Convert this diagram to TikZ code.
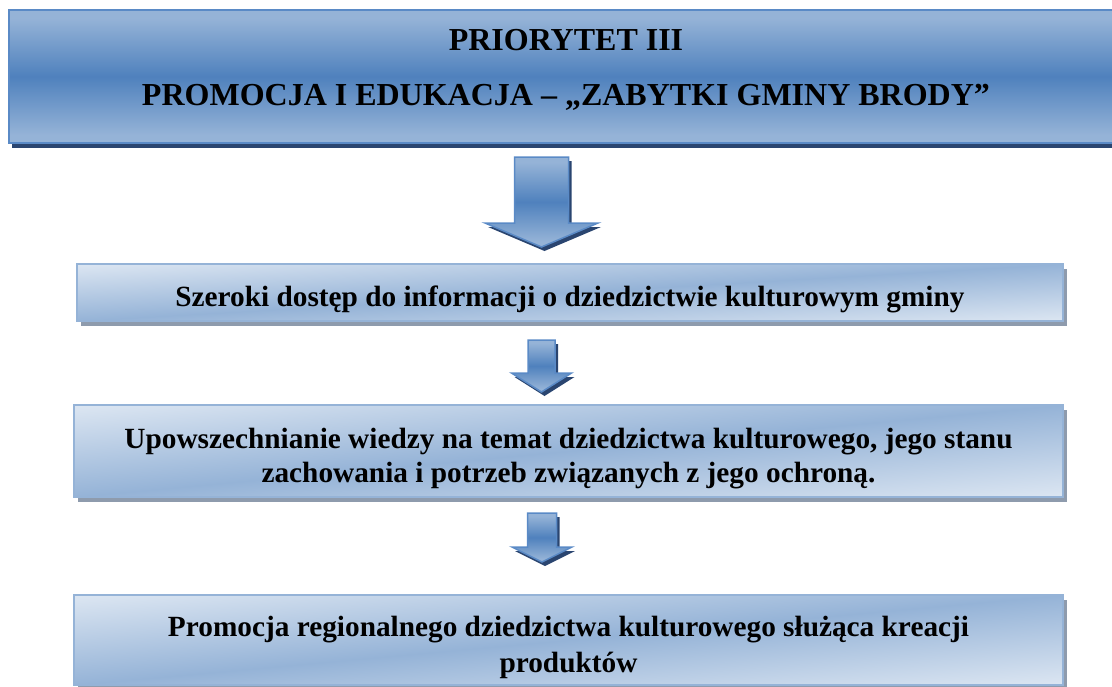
\documentclass[tikz,border=0pt]{standalone}
\usepackage{fontspec}
\setmainfont{Liberation Serif}
\usetikzlibrary{shadows}
\definecolor{lightb}{HTML}{DCE6F2}
\definecolor{midb}{HTML}{95B3D7}
\definecolor{darkb}{HTML}{4F81BD}
\definecolor{bordblue}{HTML}{5A8AC6}
\definecolor{navy}{HTML}{2A4570}
\definecolor{shadowgray}{HTML}{8E9BAD}
\definecolor{boxborder}{HTML}{95B3D7}
\pgfdeclareverticalshading{topband}{100bp}{color(0bp)=(midb); color(28bp)=(midb); color(50bp)=(darkb); color(72bp)=(midb); color(100bp)=(midb)}
\pgfdeclarefunctionalshading{diagbox}{\pgfpoint{0bp}{0bp}}{\pgfpoint{100bp}{100bp}}{}{
  25 sub 50 div exch 25 sub 50 div sub abs
  dup 1 gt {pop 1} if
  dup 0.279 mul 0.584 add exch
  dup 0.2 mul 0.702 add exch
  0.106 mul 0.843 add
}
\newcommand\blockarrow[6]{%
  \begin{scope}[shift={(3,4)}]
    \fill[navy] ({#1-#3},#2) -- ({#1+#3},#2) -- ({#1+#3},#4) -- ({#1+#5},#4) -- (#1,#6) -- ({#1-#5},#4) -- ({#1-#3},#4) -- cycle;
  \end{scope}
  \shade[arrowbody] ({#1-#3},#2) -- ({#1+#3},#2) -- ({#1+#3},#4) -- ({#1+#5},#4) -- (#1,#6) -- ({#1-#5},#4) -- ({#1-#3},#4) -- cycle;
}
\begin{document}
\begin{tikzpicture}[x=1pt,y=-1pt,
  arrowbody/.style={shading=topband, draw=bordblue, line width=1.5pt, line join=miter},
  topbox/.style={shade, shading=topband, draw=bordblue, line width=2.5pt,
    general shadow={fill=navy, shadow xshift=3pt, shadow yshift=-5pt}, inner sep=0pt},
  lightbox/.style={shade, shading=diagbox, draw=boxborder, line width=1.5pt,
    general shadow={fill=shadowgray, shadow xshift=4pt, shadow yshift=-5pt}, inner sep=0pt},
  bodytext/.style={align=center, font=\fontsize{29.3}{34}\selectfont\bfseries, inner sep=0pt, text depth=0pt},
  titletext/.style={align=center, font=\fontsize{32}{55}\selectfont\bfseries, inner sep=0pt}]
\useasboundingbox (0,0) rectangle (1112,686);
\clip (0,0) rectangle (1112,686);
% title box
\node[topbox, minimum width=1116pt, minimum height=133pt] (b1) at (567,76.5) {};
\node[titletext] (title) at (566,70) {PRIORYTET III\\PROMOCJA I EDUKACJA – „ZABYTKI GMINY BRODY”};
% arrows
\blockarrow{541.5}{157}{27}{223}{56.5}{247}
\blockarrow{541.5}{340}{13.5}{373}{30}{392}
\blockarrow{542}{513}{14.5}{547}{30}{562}
% boxes
\node[lightbox, minimum width=986pt, minimum height=57pt] (b2) at (570,292.5) {};
\node[bodytext] (t2) at (570,296)
  {Szeroki dostęp do informacji o dziedzictwie kulturowym gminy};
\node[lightbox, minimum width=989pt, minimum height=92pt] (b3) at (568.5,451) {};
\node[bodytext] (t3) at (568.5,455)
  {Upowszechnianie wiedzy na temat dziedzictwa kulturowego, jego stanu\\zachowania i potrzeb związanych z jego ochroną.};
\node[lightbox, minimum width=989pt, minimum height=90pt] (b4) at (568.5,640) {};
\node[bodytext, font=\fontsize{29.3}{36}\selectfont\bfseries] (t4) at (568.5,644)
  {Promocja regionalnego dziedzictwa kulturowego służąca kreacji\\produktów};
\end{tikzpicture}
\end{document}
